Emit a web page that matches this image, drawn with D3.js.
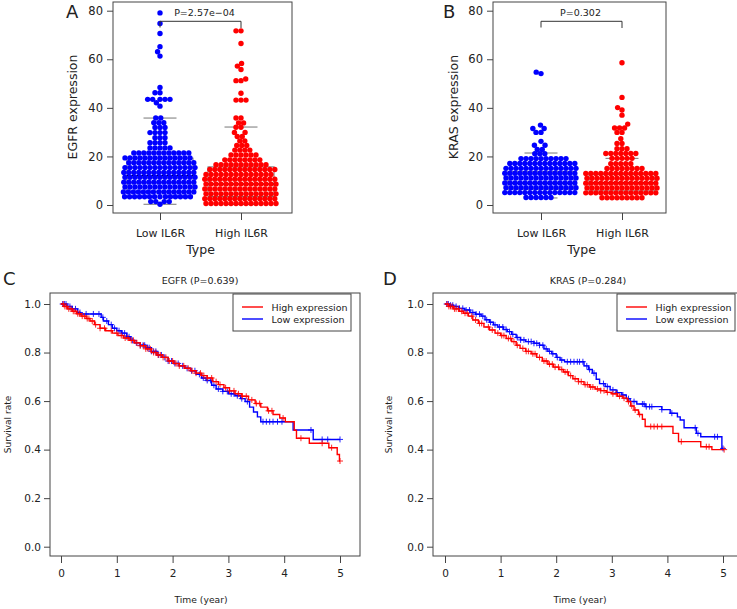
<!DOCTYPE html>
<html><head><meta charset="utf-8">
<script src="https://cdn.jsdelivr.net/npm/d3@7"></script>
<style>
body{margin:0;background:#fff}
text{font-family:"DejaVu Sans",sans-serif;fill:#222}
</style>
</head><body>
<svg id="chart" width="737" height="609"></svg>
<script>
// ---------------- DATA ----------------
const groups = ["Low IL6R", "High IL6R"];
const swarmTicks = [0, 20, 40, 60, 80];
// [expression value, number of samples at that level]
const egfrLow = [[0.3,1],[1.4,4],[3.4,14],[5.4,15],[7.4,15],[9.4,15],[11.4,15],[13.4,15],[15.4,15],[17.4,14],[19.4,14],[21.4,12],[23.5,5],[25.6,4],[27.7,3],[29.8,4],[31.9,3],[33.9,3],[35.8,2],[40.7,1],[42.1,1],[43.5,5],[46.2,2],[48.4,1],[61.3,1],[63.1,1],[65.2,1],[70.6,1],[74.7,1],[79.1,1]];
const egfrHigh = [[0.6,15],[2.6,15],[4.6,15],[6.6,15],[8.6,15],[10.6,15],[12.6,14],[14.6,14],[16.6,11],[18.6,8],[20.6,6],[22.6,4],[24.5,3],[26.4,2],[28.2,2],[29.9,2],[32,2],[33.8,2],[35.8,2],[43.2,3],[46,1],[51.2,2],[51.9,1],[55.8,1],[57.2,1],[58.3,1],[66.5,1],[71.7,2]];
const krasLow = [[3.1,6],[5.1,15],[7.1,15],[9.1,15],[11.1,15],[13.1,15],[15.1,15],[17.1,14],[19.1,10],[21.1,3],[22.9,2],[24.6,2],[26.2,1],[29.9,2],[31.5,2],[32.9,1],[54.1,1],[54.7,1]];
const krasHigh = [[3,9],[5,15],[7,15],[9,15],[11,15],[13,15],[15,8],[17,5],[19.2,5],[21.2,7],[23.2,3],[25.3,2],[27.3,1],[29.9,2],[31.7,3],[33.3,1],[37,1],[39.1,1],[40.1,1],[44.3,1],[58.6,1]];
// box statistics: [lower whisker, Q1, median, Q3, upper whisker]
const egfrLowBox = [0.3, 5.5, 12, 19.3, 35.8];
const egfrHighBox = [0.2, 3.5, 8.6, 15.7, 32.1];
const krasLowBox = [2.9, 6.5, 9, 13.7, 21.4];
const krasHighBox = [3, 5.8, 9.2, 12.5, 19.2];

const kmXTicks = [0, 1, 2, 3, 4, 5];
const kmYTicks = [0, 0.2, 0.4, 0.6, 0.8, 1.0];
const legendLabels = ["High expression", "Low expression"];
// Kaplan-Meier steps: [time (year), survival after the event]
const egfrHighSteps = [[0.05,0.99],[0.12,0.98],[0.2,0.97],[0.28,0.96],[0.36,0.95],[0.45,0.94],[0.52,0.93],[0.6,0.915],[0.7,0.9],[0.8,0.89],[0.92,0.88],[1.02,0.87],[1.12,0.86],[1.22,0.85],[1.32,0.84],[1.42,0.828],[1.52,0.815],[1.62,0.8],[1.72,0.79],[1.82,0.78],[1.92,0.765],[2.02,0.755],[2.12,0.745],[2.22,0.735],[2.32,0.725],[2.42,0.715],[2.52,0.705],[2.62,0.695],[2.72,0.68],[2.82,0.668],[2.92,0.655],[3.02,0.642],[3.12,0.63],[3.24,0.62],[3.36,0.605],[3.48,0.59],[3.58,0.575],[3.7,0.56],[3.8,0.545],[3.92,0.53],[4.02,0.515],[4.18,0.48],[4.22,0.447],[4.45,0.426],[4.8,0.408],[4.95,0.38],[4.99,0.353]];
const egfrLowSteps = [[0.1,0.99],[0.2,0.98],[0.3,0.965],[0.35,0.959],[0.72,0.945],[0.76,0.93],[0.85,0.915],[0.92,0.9],[1.0,0.89],[1.08,0.88],[1.18,0.865],[1.25,0.85],[1.32,0.84],[1.42,0.83],[1.52,0.82],[1.62,0.805],[1.72,0.79],[1.82,0.78],[1.92,0.765],[2.02,0.755],[2.12,0.745],[2.22,0.735],[2.32,0.725],[2.42,0.71],[2.52,0.695],[2.6,0.685],[2.7,0.665],[2.78,0.65],[2.9,0.64],[3.0,0.63],[3.12,0.622],[3.22,0.61],[3.3,0.598],[3.38,0.575],[3.45,0.555],[3.52,0.535],[3.58,0.515],[4.16,0.481],[4.52,0.442]];
const krasHighSteps = [[0.06,0.99],[0.15,0.98],[0.25,0.97],[0.33,0.962],[0.42,0.95],[0.5,0.934],[0.6,0.92],[0.7,0.905],[0.8,0.893],[0.9,0.88],[1.0,0.87],[1.1,0.858],[1.2,0.845],[1.28,0.83],[1.35,0.817],[1.45,0.805],[1.55,0.795],[1.65,0.78],[1.75,0.765],[1.85,0.752],[1.95,0.74],[2.05,0.73],[2.13,0.72],[2.22,0.705],[2.3,0.692],[2.4,0.68],[2.5,0.668],[2.6,0.658],[2.7,0.65],[2.8,0.643],[2.9,0.636],[3.0,0.63],[3.1,0.62],[3.2,0.612],[3.28,0.598],[3.34,0.58],[3.4,0.563],[3.48,0.545],[3.55,0.525],[3.6,0.495],[4.1,0.467],[4.2,0.433],[4.6,0.412],[4.8,0.4]];
const krasLowSteps = [[0.08,0.995],[0.15,0.99],[0.25,0.982],[0.35,0.975],[0.45,0.965],[0.55,0.958],[0.65,0.95],[0.72,0.935],[0.8,0.925],[0.87,0.914],[0.95,0.905],[1.05,0.895],[1.12,0.886],[1.2,0.875],[1.28,0.862],[1.36,0.852],[1.45,0.845],[1.6,0.838],[1.7,0.83],[1.78,0.815],[1.85,0.805],[1.92,0.795],[2.0,0.78],[2.07,0.769],[2.15,0.762],[2.5,0.745],[2.58,0.73],[2.65,0.715],[2.72,0.69],[2.78,0.672],[2.88,0.66],[2.97,0.646],[3.08,0.635],[3.18,0.625],[3.26,0.61],[3.33,0.598],[3.45,0.588],[3.6,0.577],[3.9,0.565],[4.05,0.55],[4.18,0.535],[4.23,0.522],[4.3,0.49],[4.52,0.467],[4.6,0.453],[4.98,0.405]];
// censoring times
const egfrHighCens = [0.04,0.07,0.1,0.14,0.18,0.22,0.25,0.3,0.33,0.38,0.42,0.47,0.5,0.56,0.62,0.7,0.78,0.9,1.0,1.08,1.15,1.2,1.26,1.3,1.36,1.42,1.48,1.52,1.56,1.6,1.66,1.7,1.74,1.78,1.83,1.88,1.94,2.0,2.06,2.12,2.2,2.28,2.35,2.42,2.5,2.56,2.62,2.7,2.78,2.85,2.95,3.02,3.1,3.18,3.25,3.32,3.42,3.5,3.56,3.72,3.78,3.98,4.3,4.68,4.85,5.0];
const egfrLowCens = [0.03,0.06,0.09,0.12,0.16,0.2,0.26,0.34,0.45,0.58,0.68,0.75,0.82,0.9,0.96,1.04,1.1,1.14,1.18,1.22,1.28,1.35,1.42,1.47,1.5,1.55,1.58,1.62,1.66,1.7,1.75,1.8,1.86,1.92,1.98,2.04,2.1,2.18,2.26,2.34,2.4,2.48,2.55,2.62,2.68,2.74,2.82,2.9,2.98,3.05,3.1,3.16,3.24,3.34,3.62,3.68,3.74,3.8,3.88,3.96,4.48,4.68,4.78,5.0];
const krasHighCens = [0.04,0.07,0.1,0.13,0.17,0.2,0.24,0.3,0.36,0.4,0.48,0.55,0.62,0.66,0.78,0.85,0.95,1.02,1.06,1.14,1.18,1.24,1.3,1.4,1.46,1.5,1.58,1.62,1.7,1.78,1.82,1.88,1.93,1.98,2.04,2.1,2.16,2.2,2.26,2.34,2.4,2.45,2.52,2.56,2.62,2.66,2.74,2.8,2.86,2.92,3.02,3.08,3.14,3.22,3.3,3.36,3.42,3.5,3.7,3.76,3.82,3.9,4.25,4.7,4.75,5.02];
const krasLowCens = [0.03,0.06,0.1,0.14,0.2,0.26,0.32,0.38,0.44,0.5,0.56,0.62,0.68,0.75,0.82,0.9,0.98,1.04,1.1,1.16,1.22,1.3,1.36,1.42,1.5,1.55,1.6,1.65,1.7,1.76,1.82,1.88,1.94,2.02,2.1,2.2,2.26,2.32,2.38,2.42,2.48,2.55,2.6,2.68,2.85,2.92,3.02,3.1,3.2,3.3,3.4,3.55,3.58,3.62,3.68,3.72,3.9,4.08,4.5,4.55,4.85,4.9,5.0];

// ---------------- DRAWING ----------------
const BLUE = "#0000ff", RED = "#ff0000", FRAME = "#444";
const svg = d3.select("#chart");
svg.append("rect").attr("width", 737).attr("height", 609).attr("fill", "#fff");

function styleAxis(g, size) {
  g.select(".domain").remove();
  g.selectAll(".tick line").attr("stroke", FRAME);
  g.selectAll(".tick text").attr("font-size", size).attr("fill", "#222")
    .attr("font-family", "DejaVu Sans, sans-serif");
}

function swarmLayout(values, y, D) {
  const pts = [];
  values.forEach(([v, c]) => { for (let i = 0; i < c; i++) pts.push(v); });
  pts.sort((a, b) => a - b);
  const placed = [];
  pts.forEach(v => {
    const py = y(v);
    const iv = [];
    placed.forEach(q => {
      const dy = Math.abs(q.y - py);
      if (dy < D) { const h = Math.sqrt(D * D - dy * dy); iv.push([q.x - h, q.x + h]); }
    });
    const cand = [0];
    iv.forEach(r => cand.push(r[0], r[1]));
    cand.sort((a, b) => (Math.abs(a) - Math.abs(b)) || (a - b));
    let px = 0;
    for (const c of cand) {
      if (!iv.some(r => c > r[0] + 1e-6 && c < r[1] - 1e-6)) { px = c; break; }
    }
    placed.push({ x: px, y: py, v });
  });
  return placed;
}

function swarmPanel(opt) {
  const g = svg.append("g");
  const y = d3.scaleLinear().domain([0, 80]).range([205, 10.7]);
  const x = d3.scalePoint().domain(groups).range(opt.cats);
  const ya = g.append("g").attr("transform", `translate(${opt.box[0]},0)`)
    .call(d3.axisLeft(y).tickValues(swarmTicks).tickSize(6).tickPadding(4).tickSizeOuter(0));
  styleAxis(ya, 11.5);
  const xa = g.append("g").attr("transform", `translate(0,${opt.box[3]})`)
    .call(d3.axisBottom(x).tickSize(7).tickPadding(9).tickSizeOuter(0));
  styleAxis(xa, 11);
  const boxes = [opt.boxLow, opt.boxHigh];
  groups.forEach((gr, i) => {
    const cx = x(gr), s = boxes[i];
    g.append("rect").attr("x", cx - 33).attr("width", 66)
      .attr("y", y(s[3])).attr("height", y(s[1]) - y(s[3]))
      .attr("fill", "none").attr("stroke", "#777");
    [s[0], s[4]].forEach(v => g.append("line").attr("x1", cx - 16.5).attr("x2", cx + 16.5)
      .attr("y1", y(v)).attr("y2", y(v)).attr("stroke", "#777"));
    g.append("line").attr("x1", cx - 33).attr("x2", cx + 33)
      .attr("y1", y(s[2])).attr("y2", y(s[2])).attr("stroke", "#111").attr("stroke-width", 1.5);
  });
  const data = [opt.low, opt.high];
  const cols = [BLUE, RED];
  groups.forEach((gr, i) => {
    const pts = swarmLayout(data[i], y, 5);
    g.append("g").selectAll("circle").data(pts).join("circle")
      .attr("cx", d => x(gr) + d.x).attr("cy", d => d.y).attr("r", 2.7)
      .attr("fill", cols[i]);
  });
  g.append("rect").attr("x", opt.box[0]).attr("y", opt.box[1])
    .attr("width", opt.box[2] - opt.box[0]).attr("height", opt.box[3] - opt.box[1])
    .attr("fill", "none").attr("stroke", FRAME);
  const x1 = x(groups[0]), x2 = x(groups[1]);
  g.append("path").attr("d", `M${x1},27.5V21.3H${x2}V28`).attr("fill", "none").attr("stroke", "#333");
  g.append("text").attr("x", (x1 + x2) / 2 + opt.pdx).attr("y", 15.5).attr("text-anchor", "middle")
    .attr("font-size", 9.5).text(opt.p);
  g.append("text").attr("x", (x1 + x2) / 2).attr("y", 254).attr("text-anchor", "middle")
    .attr("font-size", 12.5).text("Type");
  g.append("text").attr("transform", `translate(${opt.ylabX},107) rotate(-90)`)
    .attr("text-anchor", "middle").attr("font-size", 12.5).text(opt.ylab);
  g.append("text").attr("x", opt.letter[0]).attr("y", opt.letter[1]).attr("font-size", 18)
    .attr("font-family", "Lato, sans-serif").text(opt.L);
}

swarmPanel({ box: [113, 2, 292, 213], cats: [160, 241], low: egfrLow, high: egfrHigh,
  boxLow: egfrLowBox, boxHigh: egfrHighBox, p: "P=2.57e\u221204", pdx: 4, ylab: "EGFR expression",
  ylabX: 77, letter: [66, 18], L: "A" });
swarmPanel({ box: [493, 2, 666, 213], cats: [541, 622], low: krasLow, high: krasHigh,
  boxLow: krasLowBox, boxHigh: krasHighBox, p: "P=0.302", pdx: -1, ylab: "KRAS expression",
  ylabX: 458, letter: [443, 18], L: "B" });

function stepValue(steps, t) {
  let s = 1;
  for (const [st, sv] of steps) { if (st <= t) s = sv; else break; }
  return s;
}

function kmPanel(opt) {
  const g = svg.append("g");
  const x = d3.scaleLinear().domain([0, 5]).range(opt.xr);
  const y = d3.scaleLinear().domain([0, 1]).range([546.7, 304]);
  const [bx0, by0, bx1, by1] = opt.box;
  const clipId = "clip" + opt.L;
  svg.append("clipPath").attr("id", clipId).append("rect").attr("x", bx0).attr("y", by0)
    .attr("width", bx1 - bx0).attr("height", by1 - by0);
  const ya = g.append("g").attr("transform", `translate(${bx0},0)`)
    .call(d3.axisLeft(y).tickValues(kmYTicks).tickFormat(d3.format(".1f")).tickSize(6).tickPadding(3).tickSizeOuter(0));
  styleAxis(ya, 10.5);
  const xa = g.append("g").attr("transform", `translate(0,${by1})`)
    .call(d3.axisBottom(x).tickValues(kmXTicks).tickFormat(d3.format("d")).tickSize(7).tickPadding(7).tickSizeOuter(0));
  styleAxis(xa, 10.5);
  const line = d3.line().x(d => x(d[0])).y(d => y(d[1])).curve(d3.curveStepAfter);
  const series = [
    { steps: opt.lowSteps, cens: opt.lowCens, col: BLUE, end: opt.lowEnd },
    { steps: opt.highSteps, cens: opt.highCens, col: RED, end: opt.highEnd }
  ];
  series.forEach(s => {
    const pts = [[0, 1], ...s.steps, [s.end, s.steps[s.steps.length - 1][1]]];
    g.append("path").attr("d", line(pts)).attr("fill", "none").attr("stroke", s.col)
      .attr("stroke-width", 1.4).attr("clip-path", `url(#${clipId})`);
    const cg = g.append("g").attr("stroke", s.col).attr("stroke-width", 1).attr("opacity", 0.85);
    s.cens.forEach(t => {
      const cx = x(t), cy = y(stepValue(s.steps, t));
      cg.append("path").attr("d", `M${cx - 3},${cy}H${cx + 3}M${cx},${cy - 3}V${cy + 3}`);
    });
  });
  g.append("rect").attr("x", bx0).attr("y", by0).attr("width", bx1 - bx0).attr("height", by1 - by0)
    .attr("fill", "none").attr("stroke", FRAME);
  const [lx0, ly0, lx1, ly1] = opt.leg;
  g.append("rect").attr("x", lx0).attr("y", ly0).attr("width", lx1 - lx0).attr("height", ly1 - ly0)
    .attr("fill", "#fff").attr("stroke", FRAME);
  [RED, BLUE].forEach((c, i) => {
    const yy = ly0 + 13 + i * 12;
    g.append("line").attr("x1", lx0 + 9).attr("x2", lx0 + 30).attr("y1", yy).attr("y2", yy)
      .attr("stroke", c).attr("stroke-width", 1.4);
    g.append("text").attr("x", lx0 + 38.5).attr("y", yy + 3.5).attr("font-size", 9.5).text(legendLabels[i]);
  });
  g.append("text").attr("x", opt.titleX).attr("y", 284).attr("text-anchor", "middle")
    .attr("font-size", 9.5).text(opt.title);
  g.append("text").attr("x", opt.xlabX).attr("y", 603).attr("text-anchor", "middle")
    .attr("font-size", 9.2).text("Time (year)");
  g.append("text").attr("transform", `translate(${opt.ylabX},424.5) rotate(-90)`)
    .attr("text-anchor", "middle").attr("font-size", 9).text("Survival rate");
  g.append("text").attr("x", opt.letter[0]).attr("y", opt.letter[1]).attr("font-size", 18)
    .attr("font-family", "Lato, sans-serif").text(opt.L);
}

kmPanel({ L: "C", box: [50, 293, 360, 556], xr: [61, 340], lowSteps: egfrLowSteps, highSteps: egfrHighSteps,
  lowCens: egfrLowCens, highCens: egfrHighCens, lowEnd: 5.0, highEnd: 5.0, leg: [233, 294, 351, 331],
  title: "EGFR (P=0.639)", titleX: 200, xlabX: 201, ylabX: 10.5, letter: [3, 285] });
kmPanel({ L: "D", box: [433, 293, 743, 556], xr: [445, 723], lowSteps: krasLowSteps, highSteps: krasHighSteps,
  lowCens: krasLowCens, highCens: krasHighCens, lowEnd: 5.0, highEnd: 5.02, leg: [617, 294, 735, 331],
  title: "KRAS (P=0.284)", titleX: 588, xlabX: 580, ylabX: 392, letter: [383, 285] });
</script>
</body></html>
